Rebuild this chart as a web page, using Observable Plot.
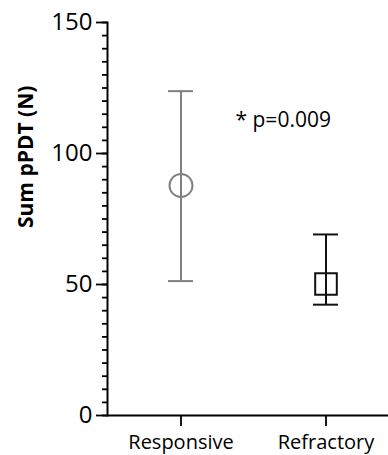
<!DOCTYPE html>
<html>
<head>
<meta charset="utf-8">
<script src="https://cdn.jsdelivr.net/npm/d3@7"></script>
<script src="https://cdn.jsdelivr.net/npm/@observablehq/plot@0.6"></script>
<style>
  html, body { margin: 0; padding: 0; background: #fff; }
  svg { display: block; overflow: visible; }
</style>
</head>
<body>
<div id="chart"></div>
<script>
const categories = ["Responsive", "Refractory"];
const centers = [87.8, 50.2];
const lows = [51.3, 42.3];
const highs = [123.8, 69.1];
const symbols = ["circle", "square"];
const colors = ["#808080", "#111111"];
const majorTicks = [0, 50, 100, 150];
const minorTicks = d3.range(0, 151, 5);
const yLabel = "Sum pPDT (N)";
const annotation = ["* p=0.009"];

const data = categories.map((c, i) => ({
  group: c, center: centers[i], low: lows[i], high: highs[i],
  symbol: symbols[i], color: colors[i]
}));

const font = "'Open Sans', sans-serif";

const chart = Plot.plot({
  width: 388,
  height: 455,
  marginLeft: 107,
  marginRight: 0,
  marginTop: 22,
  marginBottom: 40,
  style: { fontFamily: font, background: "#fff", color: "#000" },
  x: { type: "band", domain: categories, range: [167.5, 337.5], paddingInner: 0.8276, paddingOuter: 0 },
  y: { domain: [0, 150] },
  color: { type: "identity" },
  marks: [
    Plot.axisY(minorTicks, { tickSize: 5, text: null, strokeWidth: 1.8, label: null }),
    Plot.axisY(majorTicks, { tickSize: 11, tickPadding: 4, fontSize: 24, strokeWidth: 1.8, label: null, tickFormat: d => String(d) }),
    Plot.axisX(categories, { tickSize: 11, tickPadding: 8, fontSize: 20, strokeWidth: 1.8, label: null }),
    Plot.frame({ anchor: "left", strokeWidth: 2, stroke: "#000" }),
    Plot.ruleY([0], { strokeWidth: 2, stroke: "#000" }),
    Plot.ruleX(data, { x: "group", y1: "low", y2: "high", stroke: "color", strokeWidth: 2 }),
    Plot.tickY(data, { x: "group", y: "low", stroke: "color", strokeWidth: 2 }),
    Plot.tickY(data, { x: "group", y: "high", stroke: "color", strokeWidth: 2 }),
    Plot.dot(data.filter(d => d.symbol === "circle"), { x: "group", y: "center", r: 11.5, stroke: "color", strokeWidth: 2, fill: "none" }),
    Plot.dot(data.filter(d => d.symbol === "square"), { x: "group", y: "center", symbol: "square", r: 12.2, stroke: "color", strokeWidth: 2, fill: "none" }),
    Plot.text(annotation, { text: d => d, frameAnchor: "top-left", dx: 128, dy: 98, textAnchor: "start", lineAnchor: "middle", fontSize: 21, fill: "#000" }),
    Plot.text([yLabel], { text: d => d, frameAnchor: "left", rotate: -90, dx: -81, dy: 9, fontSize: 21, fontWeight: "bold", fill: "#000", lineAnchor: "middle" })
  ]
});

document.getElementById("chart").appendChild(chart);
</script>
</body>
</html>
